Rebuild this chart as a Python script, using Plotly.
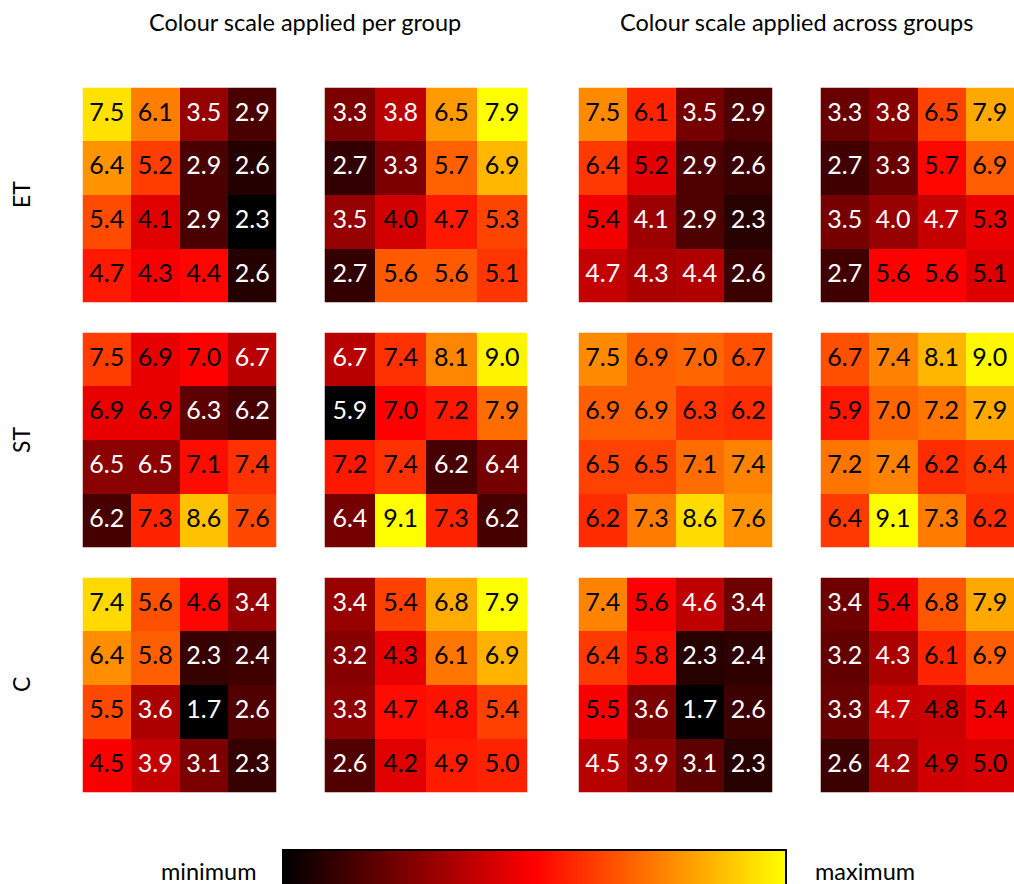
import numpy as np
import plotly.graph_objects as go

# ---------------- data ----------------
group_labels = ["ET", "ST", "C"]
col_titles = ["Colour scale applied per group", "Colour scale applied across groups"]
scale_labels = ["minimum", "maximum"]

et_left = [[7.5, 6.1, 3.5, 2.9],
           [6.4, 5.2, 2.9, 2.6],
           [5.4, 4.1, 2.9, 2.3],
           [4.7, 4.3, 4.4, 2.6]]
et_right = [[3.3, 3.8, 6.5, 7.9],
            [2.7, 3.3, 5.7, 6.9],
            [3.5, 4.0, 4.7, 5.3],
            [2.7, 5.6, 5.6, 5.1]]
st_left = [[7.5, 6.9, 7.0, 6.7],
           [6.9, 6.9, 6.3, 6.2],
           [6.5, 6.5, 7.1, 7.4],
           [6.2, 7.3, 8.6, 7.6]]
st_right = [[6.7, 7.4, 8.1, 9.0],
            [5.9, 7.0, 7.2, 7.9],
            [7.2, 7.4, 6.2, 6.4],
            [6.4, 9.1, 7.3, 6.2]]
c_left = [[7.4, 5.6, 4.6, 3.4],
          [6.4, 5.8, 2.3, 2.4],
          [5.5, 3.6, 1.7, 2.6],
          [4.5, 3.9, 3.1, 2.3]]
c_right = [[3.4, 5.4, 6.8, 7.9],
           [3.2, 4.3, 6.1, 6.9],
           [3.3, 4.7, 4.8, 5.4],
           [2.6, 4.2, 4.9, 5.0]]

groups = [(et_left, et_right), (st_left, st_right), (c_left, c_right)]

# ---------------- style / layout ----------------
W, H = 1014, 884
FONT = "Lato, 'Open Sans', sans-serif"
col_px = [(82.5, 276.5), (324.5, 527.5), (578.5, 772.5), (820.5, 1014.0)]
row_px = [(87.5, 302.5), (332.5, 547.5), (577.5, 792.5)]
BLACK, RED, YELLOW = "#000000", "#FF0000", "#FFFF00"
WHITE_TEXT_FRACTION = 0.78  # below this share of the lower half -> white text


def clamp(v):
    return min(1.0, max(0.0, v))


def scale_for(values):
    v = np.asarray(values, dtype=float).ravel()
    lo, hi, mid = v.min(), v.max(), np.median(v)
    m = (mid - lo) / (hi - lo)
    cs = [[0.0, BLACK], [m, RED], [1.0, YELLOW]]
    return lo, hi, mid, cs


all_values = [g for pair in groups for g in pair]
glo, ghi, gmid, gcs = scale_for(all_values)

fig = go.Figure()
layout_axes = {}
n = 0
for r, (left, right) in enumerate(groups):
    plo, phi, pmid, pcs = scale_for([left, right])
    panels = [(left, plo, phi, pmid, pcs), (right, plo, phi, pmid, pcs),
              (left, glo, ghi, gmid, gcs), (right, glo, ghi, gmid, gcs)]
    for c, (z, lo, hi, mid, cs) in enumerate(panels):
        n += 1
        xa = "x" if n == 1 else f"x{n}"
        ya = "y" if n == 1 else f"y{n}"
        zarr = np.asarray(z, dtype=float)
        nrow, ncol = zarr.shape
        xs = list(range(ncol))
        ys = list(range(nrow))
        fig.add_trace(go.Heatmap(z=zarr, x=xs, y=ys, colorscale=cs, zmin=lo, zmax=hi,
                                 showscale=False, xaxis=xa, yaxis=ya, hoverinfo="z"))
        tx, ty, tt, tc = [], [], [], []
        thr = lo + WHITE_TEXT_FRACTION * (mid - lo)
        for i in ys:
            for j in xs:
                val = zarr[i, j]
                tx.append(j)
                ty.append(i)
                tt.append(f"{val:.1f}")
                tc.append("white" if val < thr else "black")
        fig.add_trace(go.Scatter(x=tx, y=ty, text=tt, mode="text", xaxis=xa, yaxis=ya,
                                 textfont=dict(family=FONT, size=25, color=tc),
                                 hoverinfo="skip", showlegend=False))
        x0, x1 = col_px[c]
        y0, y1 = row_px[r]
        key = "" if n == 1 else str(n)
        layout_axes[f"xaxis{key}"] = dict(domain=[clamp(x0 / W), clamp(x1 / W)], range=[-0.5, ncol - 0.5],
                                          visible=False, fixedrange=True, anchor=ya)
        layout_axes[f"yaxis{key}"] = dict(domain=[clamp(1 - y1 / H), clamp(1 - y0 / H)],
                                          range=[nrow - 0.5, -0.5],
                                          visible=False, fixedrange=True, anchor=xa)

# colour bar legend (generic black-red-yellow scale)
fig.add_trace(go.Scatter(
    x=[None], y=[None], mode="markers", showlegend=False, hoverinfo="skip",
    marker=dict(color=[0.0], cmin=0, cmax=1,
                colorscale=[[0.0, BLACK], [0.5, RED], [1.0, YELLOW]],
                showscale=True,
                colorbar=dict(orientation="h", x=283 / W, xanchor="left",
                              y=1 - 850 / H, yanchor="top",
                              len=503, lenmode="pixels", thickness=40, thicknessmode="pixels",
                              outlinecolor="black", outlinewidth=2,
                              showticklabels=False, ticks="", xpad=0, ypad=0,
                              borderwidth=0))))

annotations = []
for k, t in enumerate(col_titles):
    cx = (col_px[2 * k][0] + col_px[2 * k + 1][1]) / 2
    annotations.append(dict(text=t, x=cx / W, y=1 - 22 / H, xref="paper", yref="paper",
                            showarrow=False, xanchor="center", yanchor="middle",
                            font=dict(family=FONT, size=23.5, color="black")))
for r, g in enumerate(group_labels):
    cy = (row_px[r][0] + row_px[r][1]) / 2
    annotations.append(dict(text=g, x=21 / W, y=1 - cy / H, xref="paper", yref="paper",
                            showarrow=False, textangle=-90, xanchor="center", yanchor="middle",
                            font=dict(family=FONT, size=23, color="black")))
annotations.append(dict(text=scale_labels[0], x=208 / W, y=1 - 871 / H, xref="paper", yref="paper",
                        showarrow=False, xanchor="center", yanchor="middle",
                        font=dict(family=FONT, size=23.5, color="black")))
annotations.append(dict(text=scale_labels[1], x=865 / W, y=1 - 871 / H, xref="paper", yref="paper",
                        showarrow=False, xanchor="center", yanchor="middle",
                        font=dict(family=FONT, size=23.5, color="black")))

fig.update_layout(width=W, height=H, margin=dict(l=0, r=0, t=0, b=0, autoexpand=False),
                  paper_bgcolor="white", plot_bgcolor="white", showlegend=False,
                  annotations=annotations, font=dict(family=FONT), **layout_axes)

fig.write_html("out.html", config={"displayModeBar": False},
               post_script="document.body.style.margin='0';document.body.style.overflow='hidden';")
